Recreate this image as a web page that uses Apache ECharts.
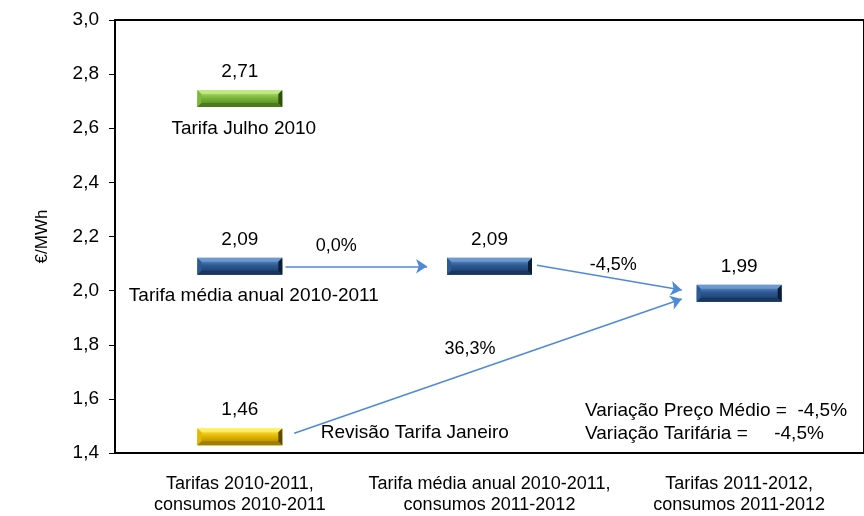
<!DOCTYPE html>
<html>
<head>
<meta charset="utf-8">
<script src="https://cdn.jsdelivr.net/npm/echarts@6/dist/echarts.min.js"></script>
<style>
  html, body { margin: 0; padding: 0; background: #fff; }
  #chart { width: 864px; height: 516px; }
</style>
</head>
<body>
<div id="chart"></div>
<script>
// categories on the x axis
const categories = [
  "Tarifas 2010-2011,\nconsumos 2010-2011",
  "Tarifa média anual 2010-2011,\nconsumos 2011-2012",
  "Tarifas 2011-2012,\nconsumos 2011-2012",
];
const yTicks = [1.4, 1.6, 1.8, 2.0, 2.2, 2.4, 2.6, 2.8, 3.0];

// the floating markers
const markerCats = [0, 0, 0, 1, 2];
const markerValues = [2.71, 2.09, 1.46, 2.09, 1.99];
const markerKinds = ["green", "blue", "gold", "blue", "blue"];
const markerNotes = [
  "Tarifa Julho 2010",
  "Tarifa média anual 2010-2011",
  "Revisão Tarifa Janeiro",
  "",
  "",
];

// arrows, in (category-band units, value)
const arrowFrom = [[0.683, 2.09], [1.69, 2.094], [0.718, 1.473]];
const arrowTo = [[1.25, 2.09], [2.27, 2.002], [2.27, 1.969]];
const arrowLabels = ["0,0%", "-4,5%", "36,3%"];

const summaryLines = [
  "Variação Preço Médio =  -4,5%",
  "Variação Tarifária =     -4,5%",
];

const FONT = '"Liberation Sans", Arial, sans-serif';
const comma = (v) => v.toFixed(2).replace(".", ",");

const palette = {
  green: { base: "#7cb83a", light: "#c2ea86", dark: "#4a7a1c", edge: "#2f4f10" },
  blue: { base: "#2d5a92", light: "#6f9bd2", dark: "#183660", edge: "#0c1d36" },
  gold: { base: "#e5b800", light: "#fff066", dark: "#a07e00", edge: "#5e4a00" },
};

// where each note sits relative to its marker
const noteLayouts = {
  0: { dx: 4, dy: 30, align: "center" },
  1: { dx: -111, dy: 29, align: "left" },
  2: { dx: 81, dy: -4, align: "left" },
};

function renderMarker(params, api) {
  const i = params.dataIndex;
  const c = api.coord([api.value(0), api.value(1)]);
  const w = 85, h = 17, b = 4;
  const x0 = c[0] - w / 2, x1 = c[0] + w / 2;
  const y0 = c[1] - h / 2, y1 = c[1] + h / 2;
  const p = palette[markerKinds[i]];
  const children = [
    {
      type: "rect",
      shape: { x: x0, y: y0, width: w, height: h },
      style: {
        fill: new echarts.graphic.LinearGradient(0, 0, 0, 1, [
          { offset: 0, color: p.light },
          { offset: 0.45, color: p.base },
          { offset: 1, color: p.dark },
        ]),
      },
    },
    { type: "polygon", shape: { points: [[x0, y0], [x1, y0], [x1 - b, y0 + b], [x0 + b, y0 + b]] }, style: { fill: p.light, opacity: 0.85 } },
    { type: "polygon", shape: { points: [[x0, y1], [x1, y1], [x1 - b, y1 - b], [x0 + b, y1 - b]] }, style: { fill: p.dark } },
    { type: "polygon", shape: { points: [[x0, y0], [x0 + b, y0 + b], [x0 + b, y1 - b], [x0, y1]] }, style: { fill: p.base } },
    { type: "polygon", shape: { points: [[x1, y0], [x1 - b, y0 + b], [x1 - b, y1 - b], [x1, y1]] }, style: { fill: p.edge } },
    {
      type: "text",
      style: {
        x: c[0], y: c[1] - 27, text: comma(markerValues[i]),
        font: "19px " + FONT, fill: "#000", align: "center", verticalAlign: "middle",
      },
    },
  ];
  const note = markerNotes[i];
  if (note) {
    const lay = noteLayouts[i];
    children.push({
      type: "text",
      style: {
        x: c[0] + lay.dx, y: c[1] + lay.dy, text: note,
        font: "19px " + FONT, fill: "#000", align: lay.align, verticalAlign: "middle",
      },
    });
  }
  return { type: "group", children };
}

// arrow labels: drawn at each arrow's midpoint, nudged in pixels
const labelOffsets = [[-20, -20], [4, -13], [-18, -17]];

function renderArrowLabel(params, api) {
  const i = params.dataIndex;
  const c = api.coord([api.value(0), api.value(1)]);
  return {
    type: "text",
    style: {
      x: c[0] + labelOffsets[i][0], y: c[1] + labelOffsets[i][1],
      text: arrowLabels[i], font: "18px " + FONT, fill: "#000",
      align: "center", verticalAlign: "middle",
    },
  };
}

const chart = echarts.init(document.getElementById("chart"));
chart.setOption({
  animation: false,
  grid: {
    left: 115, top: 20, width: 756, height: 436,
    show: true, borderColor: "#000", borderWidth: 2, backgroundColor: "transparent",
  },
  xAxis: [
    {
      type: "category",
      data: categories,
      axisLine: { lineStyle: { color: "#000", width: 2 } },
      axisTick: { show: false },
      axisLabel: { color: "#000", fontSize: 18, fontFamily: FONT, lineHeight: 21, margin: 21, interval: 0 },
    },
    { type: "value", min: 0, max: 3, show: false },
  ],
  yAxis: {
    type: "value",
    min: yTicks[0],
    max: yTicks[yTicks.length - 1],
    interval: 0.2,
    name: "€/MWh",
    nameLocation: "middle",
    nameGap: 64,
    nameRotate: 90,
    nameTextStyle: { color: "#000", fontSize: 17, fontFamily: FONT },
    axisLine: { show: true, lineStyle: { color: "#000", width: 2 } },
    axisTick: { show: true, length: 6, lineStyle: { color: "#000" } },
    splitLine: { show: false },
    axisLabel: {
      color: "#000", fontSize: 19, fontFamily: FONT, margin: 16,
      formatter: (v) => v.toFixed(1).replace(".", ","),
    },
  },
  series: [
    {
      type: "lines",
      coordinateSystem: "cartesian2d",
      xAxisIndex: 1,
      yAxisIndex: 0,
      symbol: ["none", "arrow"],
      symbolSize: 11,
      lineStyle: { color: "#4f8ad9", width: 1.5, opacity: 1 },
      data: arrowFrom.map((f, i) => ({ coords: [f, arrowTo[i]] })),
      z: 3,
    },
    {
      type: "custom",
      xAxisIndex: 1,
      yAxisIndex: 0,
      silent: true,
      renderItem: renderArrowLabel,
      data: arrowFrom.map((f, i) => [(f[0] + arrowTo[i][0]) / 2, (f[1] + arrowTo[i][1]) / 2]),
      z: 4,
    },
    {
      type: "custom",
      xAxisIndex: 0,
      yAxisIndex: 0,
      renderItem: renderMarker,
      data: markerValues.map((v, i) => [markerCats[i], v]),
      z: 4,
    },
  ],
  graphic: summaryLines.map((t, i) => ({
    type: "text",
    left: 585,
    top: 401 + i * 23,
    style: { text: t, font: "19px " + FONT, fill: "#000" },
  })),
});
</script>
</body>
</html>
